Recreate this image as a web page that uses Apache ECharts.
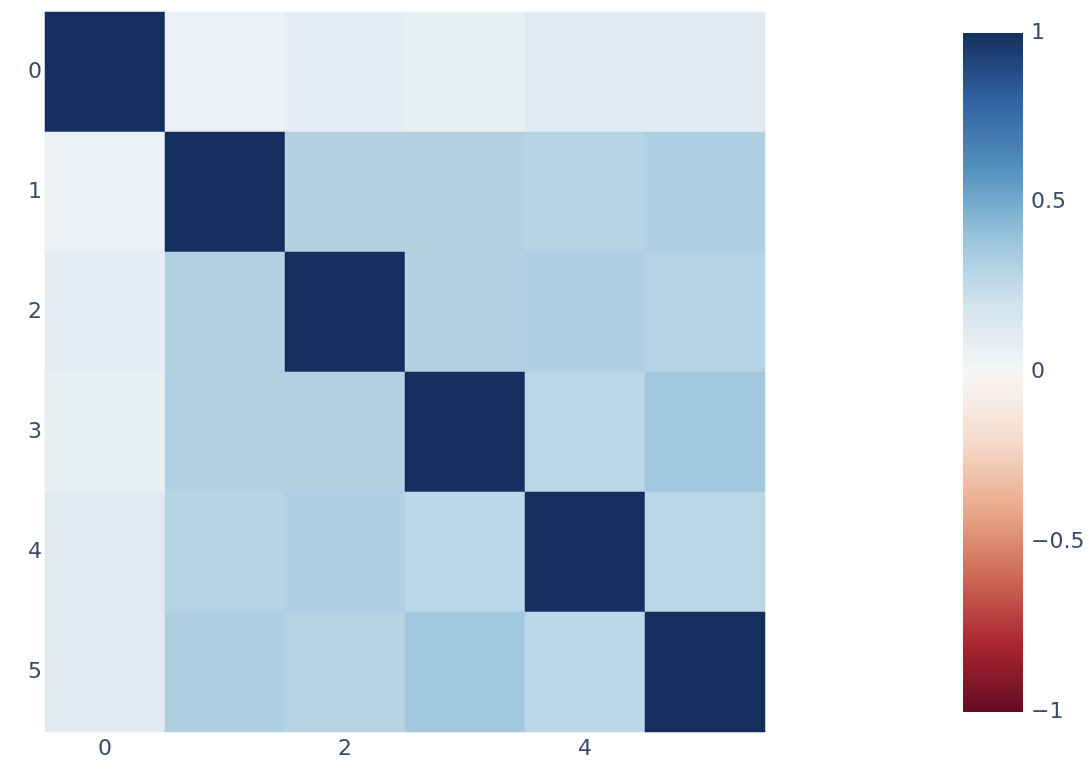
<!DOCTYPE html>
<html>
<head>
<meta charset="utf-8">
<script src="https://cdn.jsdelivr.net/npm/echarts@6/dist/echarts.min.js"></script>
<style>
html,body{margin:0;padding:0;background:#fff;}
#chart{width:1089px;height:771px;}
</style>
</head>
<body>
<div id="chart"></div>
<script>
const xCategories = ['0', '1', '2', '3', '4', '5'];
const yCategories = ['0', '1', '2', '3', '4', '5'];
const row0 = [1.00, 0.06, 0.10, 0.07, 0.12, 0.12];
const row1 = [0.06, 1.00, 0.31, 0.31, 0.30, 0.32];
const row2 = [0.10, 0.31, 1.00, 0.31, 0.32, 0.30];
const row3 = [0.07, 0.31, 0.31, 1.00, 0.28, 0.37];
const row4 = [0.12, 0.30, 0.32, 0.28, 1.00, 0.28];
const row5 = [0.12, 0.32, 0.30, 0.37, 0.28, 1.00];
const colorbarTicks = [-1, -0.5, 0, 0.5, 1];
const palette = ['rgb(100,12,36)', 'rgb(170,37,48)', 'rgb(205,105,85)', 'rgb(235,170,140)',
  'rgb(245,220,205)', 'rgb(246,246,246)', 'rgb(210,228,238)', 'rgb(152,195,220)',
  'rgb(82,145,190)', 'rgb(50,98,163)', 'rgb(20,47,94)'];

const rows = [row0, row1, row2, row3, row4, row5];
const heatData = [];
rows.forEach((row, r) => row.forEach((v, c) => heatData.push([c, r, v])));

const font = '"DejaVu Sans", Verdana, sans-serif';
const textColor = '#3b4a68';
const fs = 22;
const cbMin = colorbarTicks[0];
const cbMax = colorbarTicks[colorbarTicks.length - 1];

const chart = echarts.init(document.getElementById('chart'));
chart.setOption({
  backgroundColor: '#ffffff',
  animation: false,
  grid: [
    { left: 45, top: 12, width: 720, height: 720 },
    { left: 963, top: 33, width: 60, height: 679 }
  ],
  xAxis: [
    {
      type: 'category', data: xCategories, gridIndex: 0,
      axisLine: { show: false }, axisTick: { show: false }, splitLine: { show: false },
      axisLabel: { interval: 1, color: textColor, fontSize: fs, fontFamily: font, margin: 6 }
    },
    { type: 'value', gridIndex: 1, show: false, min: 0, max: 1 }
  ],
  yAxis: [
    {
      type: 'category', data: yCategories, gridIndex: 0, inverse: true,
      axisLine: { show: false }, axisTick: { show: false }, splitLine: { show: false },
      axisLabel: { color: textColor, fontSize: fs, fontFamily: font, margin: 3, padding: [3, 0, 0, 0] }
    },
    {
      type: 'value', gridIndex: 1, position: 'right', min: cbMin, max: cbMax, interval: 0.5,
      axisLine: { show: false }, axisTick: { show: false }, splitLine: { show: false },
      axisLabel: {
        color: textColor, fontSize: fs, fontFamily: font, margin: 8, padding: [3, 0, 0, 0],
        formatter: v => (v < 0 ? '\u2212' + Math.abs(v) : String(v))
      }
    }
  ],
  visualMap: {
    type: 'continuous', show: false, min: cbMin, max: cbMax, seriesIndex: 0,
    inRange: { color: palette }
  },
  series: [
    {
      type: 'heatmap', xAxisIndex: 0, yAxisIndex: 0, data: heatData,
      itemStyle: { borderWidth: 0 }
    },
    {
      type: 'custom', xAxisIndex: 1, yAxisIndex: 1, silent: true,
      data: [[0, cbMin, 1, cbMax]],
      renderItem: function (params, api) {
        const p1 = api.coord([api.value(0), api.value(3)]);
        const p2 = api.coord([api.value(2), api.value(1)]);
        const stops = palette.map((c, i) => ({ offset: i / (palette.length - 1), color: c }));
        return {
          type: 'rect',
          shape: { x: p1[0], y: p1[1], width: p2[0] - p1[0], height: p2[1] - p1[1] },
          style: { fill: new echarts.graphic.LinearGradient(0, 1, 0, 0, stops) }
        };
      }
    }
  ]
});
</script>
</body>
</html>
